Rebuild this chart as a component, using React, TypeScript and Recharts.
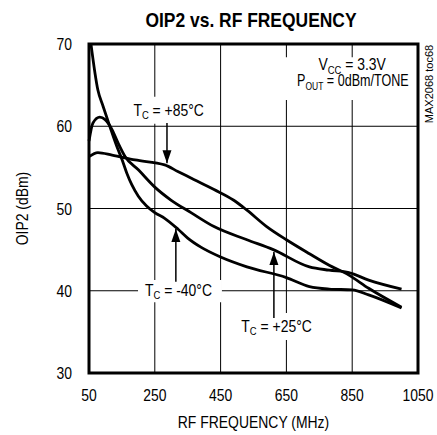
import React from 'react';
import {
  LineChart,
  Line,
  XAxis,
  YAxis,
  CartesianGrid,
  ReferenceArea,
  ReferenceLine,
  ReferenceDot,
  Label,
} from 'recharts';

const FONT = "'Liberation Sans', Arial, sans-serif";
const SQUEEZE = 0.82; // condensed look, like the original Helvetica Narrow

const xTicks = [50, 250, 450, 650, 850, 1050];
const yTicks = [30, 40, 50, 60, 70];

// TC = -40°C
const freqCold = [55, 77, 93, 114, 135, 150, 165, 180, 200, 225, 250, 280, 320, 350, 390, 450, 530, 650, 720, 780, 850, 900, 1000];
const oip2Cold = [70.3, 64.4, 62.4, 59.9, 57.5, 56.0, 54.3, 52.9, 51.5, 50.3, 49.5, 48.8, 47.5, 46.4, 45.3, 44.1, 42.9, 41.6, 40.5, 40.2, 40.1, 39.5, 37.9];

// TC = +25°C
const freqRoom = [50, 62, 83, 99, 120, 138, 160, 200, 250, 300, 360, 430, 530, 610, 720, 780, 840, 900, 1000];
const oip2Room = [58.2, 60.4, 61.1, 60.8, 59.6, 58.0, 56.3, 54.7, 52.6, 51.0, 49.5, 47.8, 46.2, 45.0, 42.9, 42.5, 42.2, 41.3, 40.2];

// TC = +85°C
const freqHot = [50, 77, 120, 190, 280, 320, 370, 430, 490, 530, 590, 650, 720, 780, 840, 900, 1000];
const oip2Hot = [56.3, 56.8, 56.5, 55.9, 55.3, 54.5, 53.5, 52.3, 51.0, 49.8, 47.8, 46.2, 44.5, 43.1, 41.9, 40.3, 38.0];

const toRows = (f: number[], v: number[]) => f.map((x, i) => ({ f: x, v: v[i] }));

// annotation label anchors (data coords), arrows from label to curve
const tempLabels = [
  { text: ' = +85°C', x: 292, y: 61.3, box: [168, 412, 60.3, 63.6], arrow: [287, 60.4, 55.5], down: true },
  { text: ' = -40°C', x: 322, y: 39.4, box: [199, 454, 38.6, 41.3], arrow: [314, 41.1, 47.5], down: false },
  { text: ' = +25°C', x: 620, y: 35.0, box: [503, 740, 34.0, 37.3], arrow: [612, 36.7, 44.7], down: false },
];

const condBox = [640, 1044, 63.2, 68.4];

const NarrowText = ({ x, y, anchor = 'middle', size = 17, rotate = 0, squeeze = SQUEEZE, children }: any) => (
  <text
    transform={`translate(${x},${y}) rotate(${rotate}) scale(${squeeze},1)`}
    textAnchor={anchor}
    fontFamily={FONT}
    fontSize={size}
    fill="#000"
  >
    {children}
  </text>
);

const Arrowhead = ({ cx, cy, down }: any) => {
  const h = down ? -13 : 13;
  return <polygon points={`${cx},${cy} ${cx - 4.5},${cy + h} ${cx + 4.5},${cy + h}`} fill="#000" />;
};

const SubText = ({ cx, cy, main, sub, rest, squeeze }: any) => (
  <NarrowText x={cx} y={cy} size={17} squeeze={squeeze}>
    {main}
    <tspan fontSize={11.5} dy={3.5}>{sub}</tspan>
    <tspan dy={-3.5}>{rest}</tspan>
  </NarrowText>
);

const XTick = ({ x, y, payload }: any) => (
  <NarrowText x={x} y={y + 12} size={17}>{payload.value}</NarrowText>
);

const YTick = ({ x, y, payload }: any) => (
  <NarrowText x={x} y={y + 6} size={17} anchor="end">{payload.value}</NarrowText>
);

export default function App() {
  return (
    <div style={{ position: 'absolute', left: 0, top: 0, width: 437, height: 435, background: '#fff', fontFamily: FONT }}>
      <div
        style={{
          position: 'absolute',
          left: 251,
          top: 9,
          transform: 'translateX(-50%) scaleX(0.83)',
          whiteSpace: 'nowrap',
          fontSize: 21,
          lineHeight: '21px',
          fontWeight: 'bold',
          color: '#000',
        }}
      >
        OIP2 vs. RF FREQUENCY
      </div>
      <div
        style={{
          position: 'absolute',
          left: 429,
          top: 84,
          transform: 'translate(-50%, -50%) rotate(-90deg)',
          fontSize: 11,
          lineHeight: '11px',
          whiteSpace: 'nowrap',
          color: '#000',
        }}
      >
        MAX2068 toc68
      </div>
      <LineChart
        width={437}
        height={435}
        margin={{ top: 44, right: 19, bottom: 0, left: 0 }}
        style={{ position: 'absolute', left: 0, top: 0 }}
      >
        <CartesianGrid stroke="#000" strokeWidth={1} />
        <XAxis
          type="number"
          dataKey="f"
          domain={[50, 1050]}
          ticks={xTicks}
          interval={0}
          height={62}
          axisLine={false}
          tickLine={false}
          tickSize={0}
          tickMargin={16}
          tick={<XTick />}
        >
          <Label
            content={({ viewBox }: any) => (
              <NarrowText x={viewBox.x + viewBox.width / 2} y={viewBox.y + 55} size={17}>
                RF FREQUENCY (MHz)
              </NarrowText>
            )}
          />
        </XAxis>
        <YAxis
          type="number"
          domain={[30, 70]}
          ticks={yTicks}
          interval={0}
          width={89}
          allowDataOverflow
          axisLine={false}
          tickLine={false}
          tickSize={0}
          tickMargin={17}
          tick={<YTick />}
        >
          <Label
            content={({ viewBox }: any) => (
              <NarrowText x={viewBox.x + 28} y={viewBox.y + viewBox.height / 2} size={17} rotate={-90}>
                OIP2 (dBm)
              </NarrowText>
            )}
          />
        </YAxis>

        {tempLabels.map((l, i) => (
          <ReferenceArea key={`b${i}`} x1={l.box[0]} x2={l.box[1]} y1={l.box[2]} y2={l.box[3]} fill="#fff" fillOpacity={1} stroke="none" />
        ))}
        <ReferenceArea x1={condBox[0]} x2={condBox[1]} y1={condBox[2]} y2={condBox[3]} fill="#fff" fillOpacity={1} stroke="none" />

        <Line data={toRows(freqCold, oip2Cold)} dataKey="v" type="monotone" stroke="#000" strokeWidth={2.8} dot={false} isAnimationActive={false} />
        <Line data={toRows(freqRoom, oip2Room)} dataKey="v" type="monotone" stroke="#000" strokeWidth={2.8} dot={false} isAnimationActive={false} />
        <Line data={toRows(freqHot, oip2Hot)} dataKey="v" type="monotone" stroke="#000" strokeWidth={2.8} dot={false} isAnimationActive={false} />

        <ReferenceArea x1={50} x2={1050} y1={30} y2={70} fill="none" stroke="#000" strokeWidth={3} />

        {tempLabels.map((l, i) => (
          <ReferenceLine
            key={`a${i}`}
            segment={[{ x: l.arrow[0], y: l.arrow[1] }, { x: l.arrow[0], y: l.arrow[2] }]}
            stroke="#000"
            strokeWidth={1.5}
          />
        ))}
        {tempLabels.map((l, i) => (
          <ReferenceDot key={`h${i}`} x={l.arrow[0]} y={l.arrow[2]} r={0} shape={(p: any) => <Arrowhead {...p} down={l.down} />} />
        ))}
        {tempLabels.map((l, i) => (
          <ReferenceDot key={`t${i}`} x={l.x} y={l.y} r={0} shape={(p: any) => <SubText {...p} main="T" sub="C" rest={l.text} />} />
        ))}
        <ReferenceDot x={850} y={66.8} r={0} shape={(p: any) => <SubText {...p} main="V" sub="CC" rest=" = 3.3V" />} />
        <ReferenceDot x={852} y={64.85} r={0} shape={(p: any) => <SubText {...p} main="P" sub="OUT" rest=" = 0dBm/TONE" squeeze={0.74} />} />
      </LineChart>
    </div>
  );
}
